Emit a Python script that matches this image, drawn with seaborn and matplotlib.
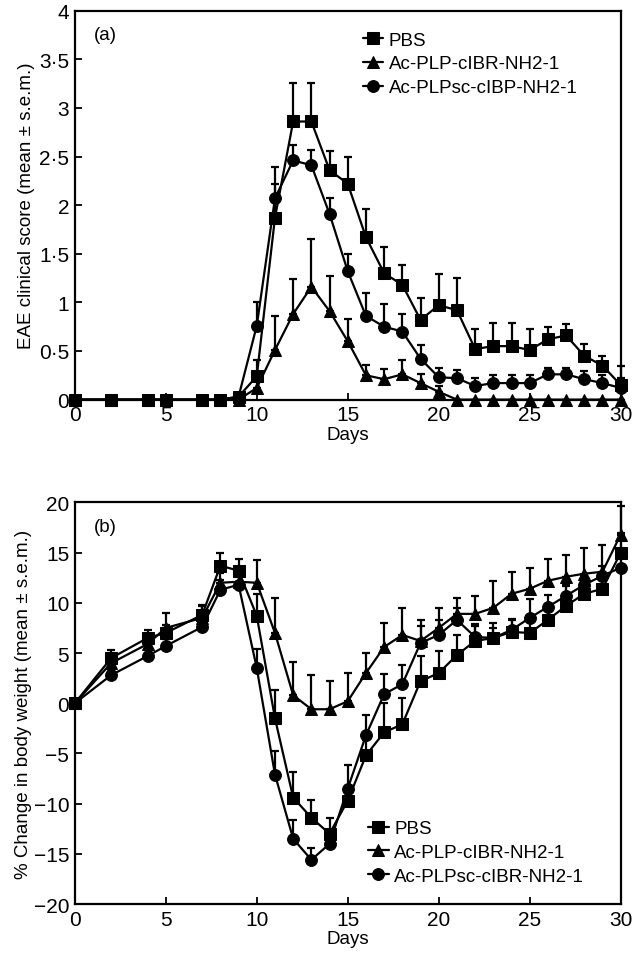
import pandas as pd
import matplotlib
matplotlib.use('Agg')
import matplotlib.pyplot as plt
import seaborn as sns
import numpy as np

sns.set_style('ticks')
plt.rcParams['font.family'] = ['Liberation Sans', 'DejaVu Sans']
plt.rcParams.update({'text.color': 'black', 'axes.labelcolor': 'black',
                     'axes.edgecolor': 'black', 'xtick.color': 'black',
                     'ytick.color': 'black'})

days = [0, 2, 4, 5, 7, 8, 9, 10, 11, 12, 13, 14, 15, 16, 17, 18, 19, 20,
        21, 22, 23, 24, 25, 26, 27, 28, 29, 30]

## (a) EAE clinical score
pbs_a = [0, 0, 0, 0, 0, 0, 0.03, 0.24, 1.87, 2.86, 2.86, 2.36, 2.22, 1.67, 1.30, 1.18,
         0.82, 0.97, 0.92, 0.52, 0.55, 0.55, 0.51, 0.62, 0.66, 0.45, 0.35, 0.15]
pbs_a_sem = [0, 0, 0, 0, 0, 0, 0.03, 0.17, 0.35, 0.40, 0.40, 0.20, 0.27, 0.29, 0.27, 0.20,
             0.23, 0.32, 0.33, 0.21, 0.24, 0.24, 0.22, 0.13, 0.12, 0.12, 0.10, 0.20]
plp_a = [0, 0, 0, 0, 0, 0, 0, 0.12, 0.51, 0.88, 1.16, 0.91, 0.60, 0.25, 0.21, 0.26,
         0.17, 0.08, 0, 0, 0, 0, 0, 0, 0, 0, 0, 0]
plp_a_sem = [0, 0, 0, 0, 0, 0, 0, 0.10, 0.35, 0.36, 0.49, 0.36, 0.23, 0.11, 0.10, 0.15,
             0.09, 0.06, 0, 0, 0, 0, 0, 0, 0, 0, 0, 0]
sc_a = [0, 0, 0, 0, 0, 0, 0.03, 0.76, 2.07, 2.46, 2.41, 1.91, 1.32, 0.86, 0.75, 0.70,
        0.42, 0.23, 0.22, 0.14, 0.17, 0.17, 0.17, 0.26, 0.26, 0.21, 0.17, 0.12]
sc_a_sem = [0, 0, 0, 0, 0, 0, 0.03, 0.24, 0.32, 0.16, 0.16, 0.16, 0.18, 0.24, 0.23, 0.18,
            0.14, 0.10, 0.08, 0.08, 0.08, 0.08, 0.08, 0.07, 0.07, 0.08, 0.08, 0.10]

## (b) % change in body weight
pbs_b = [0, 4.5, 6.5, 7.0, 8.8, 13.7, 13.2, 8.7, -1.5, -9.4, -11.4, -13.0, -9.7, -5.2,
         -2.9, -2.1, 2.2, 3.0, 4.8, 6.2, 6.5, 7.1, 7.0, 8.3, 9.7, 10.9, 11.4, 15.0]
pbs_b_sem = [0, 0.8, 0.8, 0.8, 1.0, 1.3, 1.2, 2.2, 2.8, 2.5, 1.8, 1.6, 1.5, 1.5,
             2.9, 2.6, 2.5, 2.2, 2.0, 1.5, 1.5, 1.3, 1.2, 1.2, 2.2, 1.4, 1.4, 2.0]
plp_b = [0, 4.0, 5.9, 7.5, 8.5, 12.0, 12.1, 12.0, 7.0, 0.8, -0.6, -0.6, 0.2, 3.0,
         5.6, 6.8, 6.2, 7.5, 8.9, 8.9, 9.5, 10.9, 11.4, 12.2, 12.6, 12.9, 13.1, 16.8]
plp_b_sem = [0, 0.8, 0.9, 1.5, 1.2, 1.0, 1.2, 2.3, 3.5, 3.3, 3.4, 2.8, 2.8, 2.0,
             2.4, 2.7, 1.5, 2.0, 1.6, 1.8, 2.7, 2.2, 2.1, 2.2, 2.2, 2.6, 2.7, 2.8]
sc_b = [0, 2.8, 4.7, 5.7, 7.6, 11.3, 11.8, 3.5, -7.1, -13.5, -15.6, -14.0, -8.5, -3.2,
        0.9, 1.9, 6.0, 6.8, 8.3, 6.6, 6.5, 7.3, 8.5, 9.6, 10.7, 11.8, 12.7, 13.5]
sc_b_sem = [0, 0.5, 0.6, 0.7, 0.8, 1.0, 0.8, 1.9, 2.3, 1.9, 1.2, 1.2, 2.3, 2.0,
            2.0, 1.9, 2.3, 1.5, 1.2, 1.3, 1.0, 1.0, 1.9, 1.2, 1.0, 1.0, 1.0, 1.0]

labels_a = ['PBS', 'Ac-PLP-cIBR-NH2-1', 'Ac-PLPsc-cIBP-NH2-1']
labels_b = ['PBS', 'Ac-PLP-cIBR-NH2-1', 'Ac-PLPsc-cIBR-NH2-1']
markers = ['s', '^', 'o']


def long_table(series, sems, labels):
    frames = []
    for vals, errs, lab in zip(series, sems, labels):
        frames.append(pd.DataFrame({'day': days, 'value': vals, 'sem': errs, 'group': lab}))
    return pd.concat(frames, ignore_index=True)


def draw_panel(ax, df, labels):
    for lab, m in zip(labels, markers):
        sub = df[df['group'] == lab]
        ax.errorbar(sub['day'], sub['value'], yerr=[np.zeros(len(sub)), sub['sem']],
                    fmt='none', ecolor='black', elinewidth=1.6, capsize=3, capthick=1.6,
                    clip_on=False, zorder=2)
    sns.lineplot(data=df, x='day', y='value', hue='group', style='group',
                 hue_order=labels, style_order=labels, markers=markers, dashes=False,
                 palette=['black'] * 3, markersize=8.5, markeredgecolor='black',
                 linewidth=1.6, ax=ax, clip_on=False, zorder=3)


fig = plt.figure(figsize=(6.34, 9.70), dpi=100)
ax1 = fig.add_axes([0.118, 0.587, 0.861, 0.401])
ax2 = fig.add_axes([0.118, 0.067, 0.861, 0.414])

df_a = long_table([pbs_a, plp_a, sc_a], [pbs_a_sem, plp_a_sem, sc_a_sem], labels_a)
df_b = long_table([pbs_b, plp_b, sc_b], [pbs_b_sem, plp_b_sem, sc_b_sem], labels_b)

draw_panel(ax1, df_a, labels_a)
draw_panel(ax2, df_b, labels_b)

ax1.set_xlim(0, 30)
ax1.set_ylim(0, 4)
ax1.set_yticks(np.arange(0, 4.01, 0.5))
ax1.set_yticklabels(['0', '0·5', '1', '1·5', '2', '2·5', '3', '3·5', '4'])
ax1.set_ylabel('EAE clinical score (mean ± s.e.m.)', fontsize=13.5, labelpad=3)
ax1.text(0.035, 0.96, '(a)', transform=ax1.transAxes, fontsize=13.5, va='top')

ax2.set_xlim(0, 30)
ax2.set_ylim(-20, 20)
ax2.set_yticks(np.arange(-20, 21, 5))
ax2.set_ylabel('% Change in body weight (mean ± s.e.m.)', fontsize=13.5, labelpad=1)
ax2.text(0.035, 0.96, '(b)', transform=ax2.transAxes, fontsize=13.5, va='top')

for ax in (ax1, ax2):
    ax.set_xticks([0, 5, 10, 15, 20, 25, 30])
    ax.set_xlabel('Days', fontsize=13.5, labelpad=1)
    ax.tick_params(direction='in', length=5, width=1.3, labelsize=15, pad=4)
    for s in ax.spines.values():
        s.set_linewidth(1.6)
        s.set_visible(True)

ax1.legend(loc='upper left', bbox_to_anchor=(0.51, 0.97), frameon=False, fontsize=13.5,
           handlelength=1.1, handletextpad=0.3, labelspacing=0.35, borderpad=0)
ax2.legend(loc='lower left', bbox_to_anchor=(0.52, 0.025), frameon=False, fontsize=13.5,
           handlelength=1.1, handletextpad=0.3, labelspacing=0.35, borderpad=0)

plt.savefig('out.png', dpi=100)
